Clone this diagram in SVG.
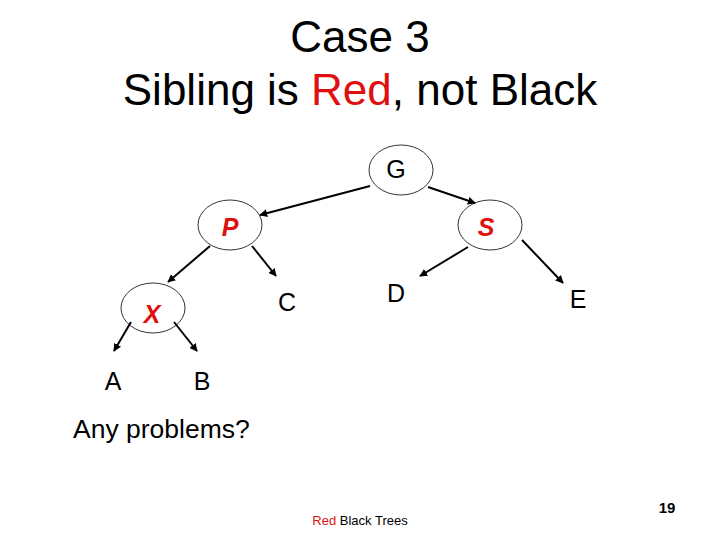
<svg xmlns="http://www.w3.org/2000/svg" width="720" height="540" viewBox="0 0 720 540">
<defs><marker id="ah" viewBox="0 0 10 10" refX="9" refY="5" markerWidth="4" markerHeight="4" orient="auto"><path d="M0,0L10,5L0,10z" fill="#000"/></marker></defs>
<style>
text{font-family:"Liberation Sans",Arial,sans-serif}
.n{fill:none;stroke:#000;stroke-width:0.8}
.c line{stroke:#000;stroke-width:2;marker-end:url(#ah)}
.l{font-size:25px;text-anchor:middle}
.r{font-size:25px;text-anchor:middle;fill:#e01010;font-weight:bold;font-style:italic}
</style>
<rect width="720" height="540" fill="#fff"/>
<text x="360" y="52" font-size="44" text-anchor="middle">Case 3</text>
<text x="360" y="105" font-size="44" text-anchor="middle">Sibling is <tspan fill="#e01010">Red</tspan>, not Black</text>
<g class="c">
<line x1="370" y1="186" x2="260" y2="215"/>
<line x1="428" y1="187" x2="475" y2="203"/>
<line x1="210" y1="246" x2="168" y2="282"/>
<line x1="252" y1="246" x2="276" y2="276"/>
<line x1="468" y1="247" x2="420" y2="276"/>
<line x1="522" y1="240" x2="563" y2="283"/>
<line x1="131" y1="322" x2="114" y2="351"/>
<line x1="174" y1="322" x2="197" y2="351"/>
</g>
<g id="G"><ellipse class="n" cx="401" cy="170" rx="32" ry="25"/><text class="l" x="396" y="178">G</text></g>
<g id="P"><ellipse class="n" cx="230" cy="225" rx="32" ry="25"/><text class="r" x="230" y="236">P</text></g>
<g id="S"><ellipse class="n" cx="490" cy="225" rx="32" ry="25"/><text class="r" x="486" y="236">S</text></g>
<g id="X"><ellipse class="n" cx="153" cy="308" rx="32" ry="25"/><text class="r" x="152" y="323">X</text></g>
<g id="C"><text class="l" x="287" y="311">C</text></g>
<g id="D"><text class="l" x="396" y="302">D</text></g>
<g id="E"><text class="l" x="578" y="308">E</text></g>
<g id="A"><text class="l" x="113" y="390">A</text></g>
<g id="B"><text class="l" x="202" y="390">B</text></g>
<text x="73" y="438" font-size="26.5">Any problems?</text>
<text x="360" y="525" font-size="13" text-anchor="middle"><tspan fill="#e01010">Red</tspan> Black Trees</text>
<text x="667" y="513" font-size="15" font-weight="bold" text-anchor="middle">19</text>
</svg>
